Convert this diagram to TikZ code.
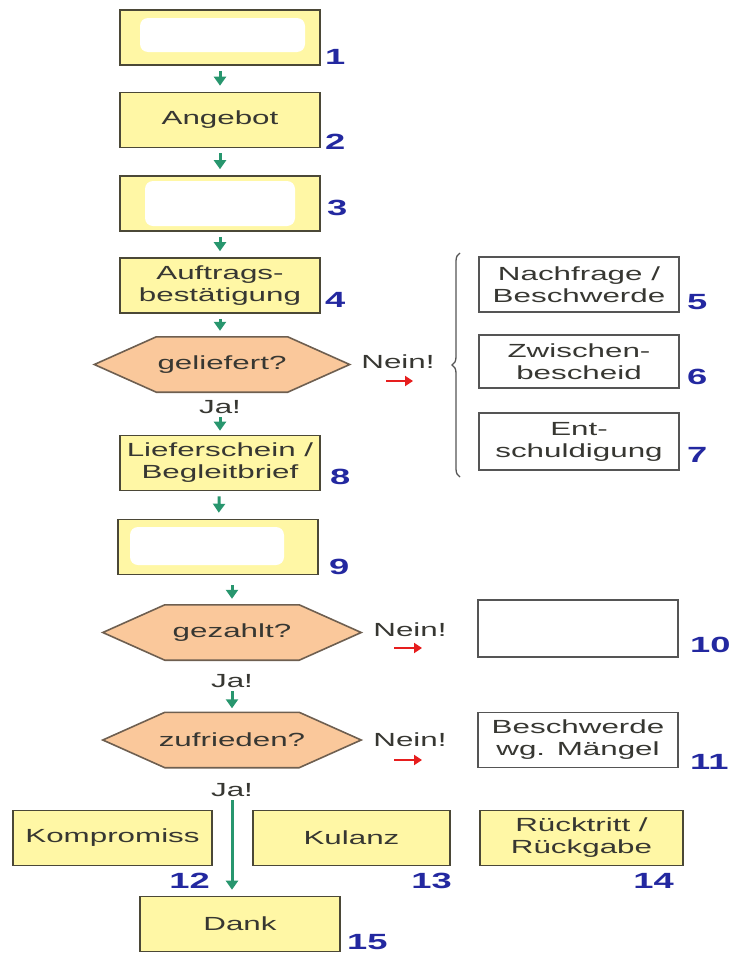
\documentclass[tikz,border=0pt]{standalone}
\usepackage{fontspec}
\setmainfont{Liberation Sans}[FakeStretch=1.65]
\usetikzlibrary{arrows.meta,decorations.pathreplacing,backgrounds}

\definecolor{boxyellow}{RGB}{255,247,165}
\definecolor{boxline}{RGB}{75,72,55}
\definecolor{wline}{RGB}{85,85,85}
\definecolor{hexorange}{RGB}{250,200,155}
\definecolor{hexline}{RGB}{110,95,80}
\definecolor{txtgray}{RGB}{55,55,50}
\definecolor{numblue}{RGB}{35,40,160}
\definecolor{arrgreen}{RGB}{40,150,110}
\definecolor{arrred}{RGB}{230,30,30}

% hexagon round a named node
\newcommand\hexround[1]{%
  \filldraw[hexshape] (#1.west) -- ([xshift=62pt]#1.north west)
    -- ([xshift=-62pt]#1.north east) -- (#1.east)
    -- ([xshift=-62pt]#1.south east) -- ([xshift=62pt]#1.south west) -- cycle;}

\tikzset{
  box/.style={draw=boxline, line width=1.6pt, fill=boxyellow, minimum width=200pt,
    minimum height=55pt, inner sep=2pt, align=center, text=txtgray,
    font=\fontsize{19}{22}\selectfont},
  wbox/.style={box, fill=white, draw=wline},
  hexa/.style={minimum width=258pt, minimum height=55pt, inner sep=2pt,
    text=txtgray, font=\fontsize{19}{22}\selectfont},
  hexshape/.style={draw=hexline, fill=hexorange, line width=1.6pt, line join=miter},
  lbl/.style={text=txtgray, font=\fontsize{19}{22}\selectfont},
  num/.style={text=numblue, font=\fontsize{22}{22}\selectfont\bfseries,
    inner sep=0pt, anchor=west},
  garrow/.style={draw=arrgreen, line width=3pt, shorten <=5pt, shorten >=6pt,
    -{Triangle[width=12pt,length=9pt]}},
  rarrow/.style={draw=arrred, line width=2.5pt, -{Triangle[width=10pt,length=8pt]}},
  blot/.style={fill=white, rounded corners=8pt},
  bracket/.style={draw=wline, line width=1.3pt, decorate,
    decoration={brace, amplitude=8pt}}
}

\begin{document}
\begin{tikzpicture}[x=1pt, y=-1pt]
  \useasboundingbox (0,0) rectangle (731,953);

  % main column
  \node[box] (b1) at (220,37.5) {};
  \node[box] (b2) at (220,120) {Angebot};
  \node[box] (b3) at (220,203.5) {};
  \node[box] (b4) at (220,285.5) {Auftrags-\\bestätigung};
  \node[hexa, minimum width=255pt] (geliefert) at (222,364.5) {geliefert?};
  \node[lbl] (ja1) at (220,407) {Ja!};
  \node[box] (b8) at (220,463) {Lieferschein /\\Begleitbrief};
  \node[box] (b9) at (218,547) {};
  \node[hexa] (gezahlt) at (232,632.5) {gezahlt?};
  \node[lbl] (ja2) at (232,681) {Ja!};
  \node[hexa] (zufrieden) at (232,740) {zufrieden?};
  \node[lbl] (ja3) at (232,790) {Ja!};
  \begin{pgfonlayer}{background}
    \hexround{geliefert}
    \hexround{gezahlt}
    \hexround{zufrieden}
  \end{pgfonlayer}

  % erased texts
  \fill[blot] (140,18) rectangle (305,52);
  \fill[blot] (145,181) rectangle (295,226);
  \fill[blot] (130,527) rectangle (284,565);

  % right column
  \node[wbox] (b5) at (579,284.5) {Nachfrage /\\Beschwerde};
  \node[wbox, minimum height=53pt] (b6) at (579,361.5) {Zwischen-\\bescheid};
  \node[wbox, minimum height=57pt] (b7) at (579,441.5) {Ent-\\schuldigung};
  \node[wbox, minimum height=57pt] (b10) at (578,628.5) {};
  \node[wbox] (b11) at (578,740) {Beschwerde\\wg. Mängel};
  \draw[bracket] (460,477) -- (460,253);

  % bottom row
  \node[box, minimum width=199pt] (b12) at (112.5,838) {Kompromiss};
  \node[box, minimum width=197pt] (b13) at (351.5,838) {Kulanz};
  \node[box, minimum width=203pt] (b14) at (581.5,838) {Rücktritt /\\Rückgabe};
  \node[box] (b15) at (240,924) {Dank};

  % no branches
  \node[lbl] (nein1) at (398,362) {Nein!};
  \node[lbl] (nein2) at (410,630) {Nein!};
  \node[lbl] (nein3) at (410,740) {Nein!};
  \coordinate (r1a) at (386,381);
  \coordinate (r1b) at (413,381);
  \coordinate (r2a) at (394,648);
  \coordinate (r2b) at (422,648);
  \coordinate (r3a) at (394,760);
  \coordinate (r3b) at (422,760);
  \draw[rarrow] (r1a) -- (r1b);
  \draw[rarrow] (r2a) -- (r2b);
  \draw[rarrow] (r3a) -- (r3b);

  % flow
  \draw[garrow] (b1) -- (b2);
  \draw[garrow] (b2) -- (b3);
  \draw[garrow] (b3) -- (b4);
  \draw[garrow] (b4) -- (b4 |- geliefert.north);
  \draw[garrow, shorten <=0pt, shorten >=4pt] (ja1) -- (b8);
  \draw[garrow] (b8) -- (b9);
  \draw[garrow, shorten <=10pt, shorten >=6pt] (b9.south -| gezahlt.north) -- (gezahlt.north);
  \draw[garrow, shorten <=0pt, shorten >=4pt] (ja2) -- (zufrieden);
  \draw[garrow, shorten <=0pt] (ja3) -- (ja3 |- b15.north);

  % numbers
  \node[num] (n1) at (325,57) {1};
  \node[num] (n2) at (325,142) {2};
  \node[num] (n3) at (327,208) {3};
  \node[num] (n4) at (325,300) {4};
  \node[num] (n5) at (687,302) {5};
  \node[num] (n6) at (687,377) {6};
  \node[num] (n7) at (687,455) {7};
  \node[num] (n8) at (330,477) {8};
  \node[num] (n9) at (329,567) {9};
  \node[num] (n10) at (690,645) {10};
  \node[num] (n11) at (690,762) {11};
  \node[num, anchor=north east] (n12) at (210,873) {12};
  \node[num, anchor=north east] (n13) at (452,873) {13};
  \node[num, anchor=north east] (n14) at (674,873) {14};
  \node[num] (n15) at (347,942) {15};
\end{tikzpicture}
\end{document}
